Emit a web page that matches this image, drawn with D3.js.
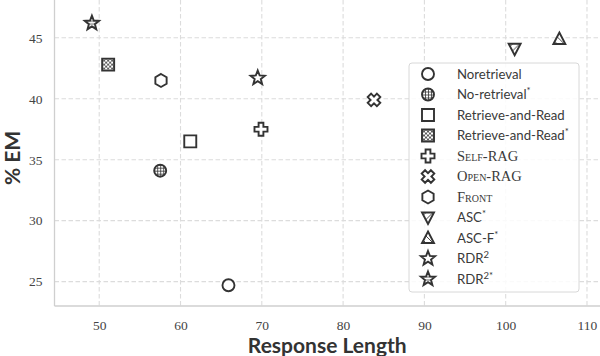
<!DOCTYPE html>
<html><head><meta charset="utf-8">
<script src="https://cdn.jsdelivr.net/npm/d3@7"></script>
<style>body{margin:0;background:#fff}svg{display:block}</style>
</head><body><svg id="c" width="600" height="356"></svg>
<script>
const methods = ["Noretrieval","No-retrieval*","Retrieve-and-Read","Retrieve-and-Read*","Self-RAG","Open-RAG","Front","ASC*","ASC-F*","RDR2","RDR2*"];
const responseLength = [65.9, 57.5, 61.2, 51.1, 69.9, 83.8, 57.6, 101.1, 106.6, 69.5, 49.1];
const emScore = [24.7, 34.1, 36.5, 42.8, 37.5, 39.9, 41.5, 44.1, 44.9, 41.7, 46.2];
const markers = ["circle","circle","square","square","plus","x","hexagon","tridown","triup","star","star"];
const hatches = [null,"grid",null,"cross",null,null,null,"fslash","bslash",null,"horiz"];
const xTicks = [50,60,70,80,90,100,110];
const yTicks = [25,30,35,40,45];

const svg = d3.select("#c");
const L=54.5, R=600, T=0, B=306;
const x = d3.scaleLinear().domain([44.5,111.6]).range([L,R]);
const y = d3.scaleLinear().domain([23,48.1]).range([B,T]);
const ink = "#333";

const defs = svg.append("defs");
function pat(id, w, draw){
  const p = defs.append("pattern").attr("id",id).attr("patternUnits","userSpaceOnUse").attr("width",w).attr("height",w);
  p.append("rect").attr("width",w).attr("height",w).attr("fill","#fff");
  draw(p, w);
}
pat("grid",3,(p,w)=>{p.append("path").attr("d",`M0,0.5H${w}M0.5,0V${w}`).attr("stroke",ink).attr("stroke-width",0.8);});
pat("cross",4,(p,w)=>{p.append("path").attr("d",`M0,0L${w},${w}M${w},0L0,${w}`).attr("stroke",ink).attr("stroke-width",0.8);});
pat("fslash",7,(p,w)=>{p.append("path").attr("d",`M0,${w}L${w},0M-1,1L1,-1M${w-1},${w+1}L${w+1},${w-1}`).attr("stroke",ink).attr("stroke-width",0.9);});
pat("bslash",7,(p,w)=>{p.append("path").attr("d",`M0,0L${w},${w}M-1,${w-1}L1,${w+1}M${w-1},-1L${w+1},1`).attr("stroke",ink).attr("stroke-width",0.9);});
pat("horiz",3,(p,w)=>{p.append("path").attr("d",`M0,1H${w}`).attr("stroke",ink).attr("stroke-width",0.8);});

const g = svg.append("g");
g.selectAll(".vg").data(xTicks).join("line").attr("x1",d=>x(d)).attr("x2",d=>x(d)).attr("y1",T).attr("y2",B)
  .attr("stroke","#dcdcdc").attr("stroke-width",1.1).attr("stroke-dasharray","4.5,2.5");
g.selectAll(".hg").data(yTicks).join("line").attr("y1",d=>y(d)).attr("y2",d=>y(d)).attr("x1",L).attr("x2",R)
  .attr("stroke","#dcdcdc").attr("stroke-width",1.1).attr("stroke-dasharray","4.5,2.5");
svg.append("line").attr("x1",L).attr("x2",L).attr("y1",T).attr("y2",B).attr("stroke","#cfcfcf").attr("stroke-width",1.3);
svg.append("line").attr("x1",L).attr("x2",R).attr("y1",B).attr("y2",B).attr("stroke","#cfcfcf").attr("stroke-width",1.3);

const xa = svg.append("g").attr("transform",`translate(0,${B})`).call(d3.axisBottom(x).tickValues(xTicks).tickSize(0).tickPadding(14));
const ya = svg.append("g").attr("transform",`translate(${L},0)`).call(d3.axisLeft(y).tickValues(yTicks).tickSize(0).tickPadding(12));
[xa,ya].forEach(a=>{a.select(".domain").remove();a.selectAll("text").attr("font-family","Liberation Serif").attr("font-size",13.5).attr("fill","#444");});

svg.append("text").attr("x",(L+R)/2).attr("y",353).attr("text-anchor","middle").attr("font-family","Lato").attr("font-weight","bold").attr("font-size",21).attr("fill","#333").text("Response Length");
svg.append("text").attr("transform",`translate(20,158) rotate(-90)`).attr("text-anchor","middle").attr("font-family","Lato").attr("font-weight","bold").attr("font-size",21).attr("fill","#333").text("% EM");

function shape(type){
  switch(type){
    case "circle": return d3.arc()({innerRadius:0,outerRadius:6,startAngle:0,endAngle:2*Math.PI});
    case "square": return "M-6,-6H6V6H-6Z";
    case "plus": { const a=2.4,b=6.5; return `M${-a},${-b}H${a}V${-a}H${b}V${a}H${a}V${b}H${-a}V${a}H${-b}V${-a}H${-a}Z`; }
    case "x": { const a=2.4,b=6.5; const pts=[[-a,-b],[a,-b],[a,-a],[b,-a],[b,a],[a,a],[a,b],[-a,b],[-a,a],[-b,a],[-b,-a],[-a,-a]];
      const c=Math.SQRT1_2; return "M"+pts.map(([px,py])=>[(px-py)*c,(px+py)*c].map(v=>v.toFixed(2)).join(",")).join("L")+"Z"; }
    case "hexagon": { const r=6.5; return "M"+d3.range(6).map(i=>{const t=-Math.PI/2+i*Math.PI/3;return [r*Math.cos(t),r*Math.sin(t)].map(v=>v.toFixed(2)).join(",");}).join("L")+"Z"; }
    case "triup": return "M0,-6.5L6,5L-6,5Z";
    case "tridown": return "M0,6.5L6,-5L-6,-5Z";
    case "star": { const ro=7.5, ri=3.2; return "M"+d3.range(10).map(i=>{const r=i%2?ri:ro;const t=-Math.PI/2+i*Math.PI/5;return [r*Math.cos(t),r*Math.sin(t)].map(v=>v.toFixed(2)).join(",");}).join("L")+"Z"; }
  }
}
const idx = d3.range(methods.length);
svg.append("g").selectAll("path").data(idx).join("path")
  .attr("d",i=>shape(markers[i]))
  .attr("transform",i=>`translate(${x(responseLength[i])},${y(emScore[i])})`)
  .attr("fill",i=>hatches[i]?`url(#${hatches[i]})`:"#fff")
  .attr("stroke",ink).attr("stroke-width",1.9).attr("stroke-linejoin","miter");

const lg = svg.append("g");
lg.append("rect").attr("x",409).attr("y",63).attr("width",170).attr("height",229).attr("rx",3)
  .attr("fill","#fff").attr("fill-opacity",0.85).attr("stroke","#d8d8d8").attr("stroke-width",1);
const rowY = i=>74+i*20.5;
lg.selectAll("path").data(idx).join("path")
  .attr("d",i=>shape(markers[i]))
  .attr("transform",i=>`translate(428,${rowY(i)})`)
  .attr("fill",i=>hatches[i]?`url(#${hatches[i]})`:"#fff")
  .attr("stroke",ink).attr("stroke-width",1.9);
const labelSpecs = [
  {t:"Noretrieval"},{t:"No-retrieval",sup:"*"},{t:"Retrieve-and-Read"},{t:"Retrieve-and-Read",sup:"*"},
  {t:"Self-RAG",sc:true},{t:"Open-RAG",sc:true},{t:"Front",sc:true},{t:"ASC",sup:"*"},{t:"ASC-F",sup:"*"},
  {t:"RDR",sup:"2"},{t:"RDR",sup:"2*"}];
labelSpecs.forEach((s,i)=>{
  const tx = lg.append("text").attr("x",457).attr("y",rowY(i)+4.5).attr("fill","#3a3a3a")
    .attr("font-family",s.sc?"Liberation Serif":"Lato").attr("font-size",s.sc?14.5:13.2);
  if(s.sc) tx.attr("font-variant","small-caps");
  tx.append("tspan").text(s.t);
  if(s.sup) tx.append("tspan").attr("dy",-5).attr("font-size",9.5).text(s.sup);
});
</script></body></html>
